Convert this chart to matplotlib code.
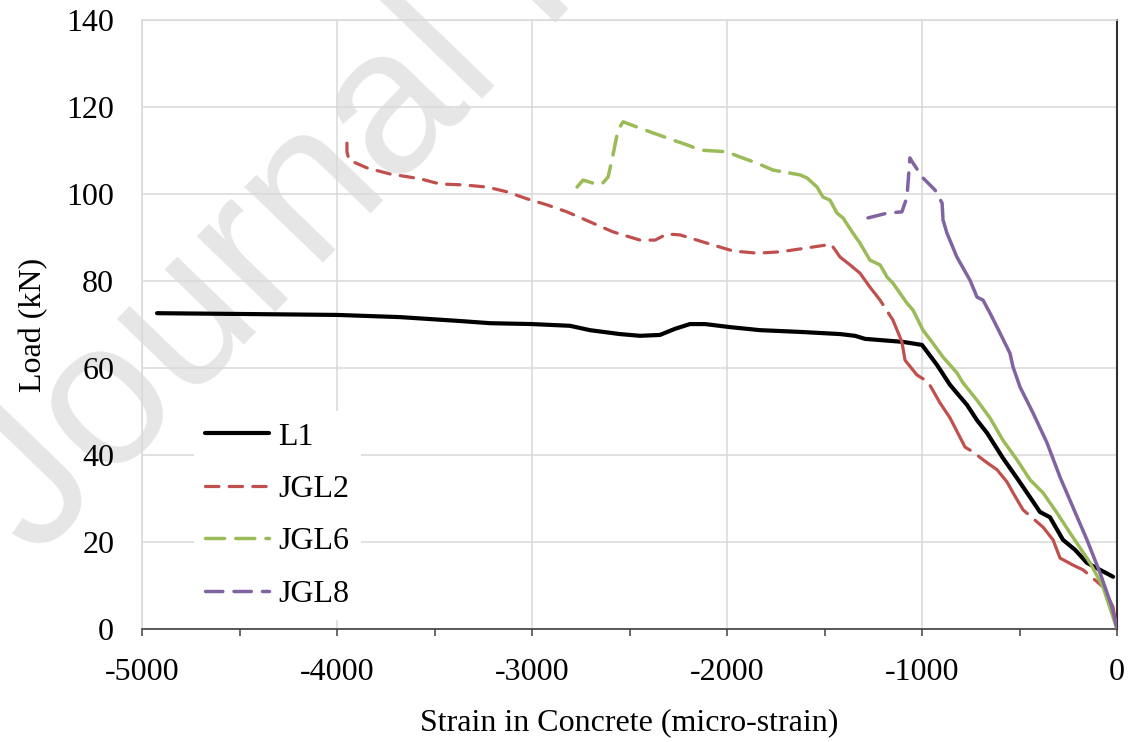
import matplotlib
matplotlib.use("Agg")
import matplotlib.pyplot as plt
import numpy as np
from matplotlib.ticker import MultipleLocator

# ---------------- data ----------------
series_names = ["L1", "JGL2", "JGL6", "JGL8"]

l1_strain = [-4923, -4446, -4000, -3677, -3369, -3215, -3000, -2805, -2703, -2549,
             -2446, -2344, -2267, -2190, -2113, -1985, -1831, -1626, -1420, -1344,
             -1292, -1097, -1000, -923, -856, -769, -718, -667, -585, -513,
             -446, -395, -344, -277, -215, -154, -87, -36, -20]
l1_load = [72.6, 72.4, 72.2, 71.7, 70.8, 70.3, 70.1, 69.7, 68.7, 67.8,
           67.4, 67.6, 69.0, 70.1, 70.1, 69.4, 68.7, 68.3, 67.8, 67.4,
           66.7, 66.0, 65.3, 60.7, 56.1, 51.5, 48.0, 45.1, 39.3, 34.7,
           30.3, 26.9, 25.7, 20.5, 18.2, 15.2, 13.6, 12.4, 12.0]

jgl2_strain = [-3949, -3949, -3938, -3846, -3728, -3574, -3472, -3354, -3231, -3128,
               -3026, -2923, -2821, -2703, -2585, -2446, -2369, -2308, -2241, -2103,
               -1969, -1846, -1728, -1590, -1487, -1456, -1420, -1369, -1318, -1267,
               -1215, -1149, -1103, -1087, -1026, -969, -908, -856, -779, -738,
               -687, -615, -564, -533, -482, -379, -328, -292, -226, -174,
               -72, -21, 0]
jgl2_load = [111.7, 109.7, 107.8, 106.0, 104.6, 103.5, 102.3, 102.1, 101.6, 100.5,
             98.9, 97.5, 95.9, 93.6, 91.3, 89.4, 89.4, 90.8, 90.6, 88.7,
             86.9, 86.4, 86.7, 87.6, 88.3, 87.8, 85.5, 83.7, 81.8, 78.6,
             75.6, 71.0, 66.0, 61.8, 58.4, 56.8, 52.0, 48.5, 41.8, 40.7,
             38.9, 36.6, 33.8, 31.3, 27.4, 23.4, 20.5, 16.3, 14.7, 13.6,
             9.7, 5.1, 0.0]

jgl6_strain = [-2769, -2738, -2687, -2641, -2610, -2590, -2559, -2533, -2462, -2395,
               -2277, -2205, -2138, -2000, -1933, -1846, -1764, -1677, -1626, -1590,
               -1538, -1508, -1472, -1436, -1405, -1354, -1318, -1267, -1215, -1179,
               -1149, -1113, -1077, -1046, -995, -944, -892, -821, -790, -718,
               -651, -585, -513, -446, -379, -308, -241, -138, -72, 0]
jgl6_load = [101.6, 103.2, 102.5, 102.3, 103.9, 107.8, 114.7, 116.6, 115.4, 114.3,
             112.4, 111.3, 110.1, 109.7, 108.5, 107.1, 105.5, 104.8, 104.4, 103.7,
             101.6, 99.3, 98.6, 95.6, 94.5, 91.0, 88.7, 84.8, 83.7, 80.9,
             79.5, 77.2, 74.9, 73.3, 68.7, 65.7, 62.5, 58.9, 56.6, 52.6,
             48.5, 43.4, 38.9, 34.3, 31.3, 26.7, 22.1, 15.2, 9.7, 0.0]

jgl8_strain = [-1277, -1179, -1103, -1077, -1062, -1046, -995, -933, -897, -892,
               -872, -821, -754, -718, -687, -651, -615, -549, -533, -497,
               -431, -359, -292, -226, -154, -87, -26, 0]
jgl8_load = [94.5, 95.6, 95.9, 99.3, 108.3, 107.1, 103.7, 100.9, 97.9, 94.0,
             91.0, 85.5, 80.2, 76.3, 75.6, 72.6, 69.4, 63.4, 60.2, 55.6,
             49.7, 42.8, 34.9, 28.0, 20.5, 12.9, 5.1, 0.0]

x_ticks = [-5000, -4000, -3000, -2000, -1000, 0]
y_ticks = [0, 20, 40, 60, 80, 100, 120, 140]

# ---------------- style ----------------
plt.rcParams['font.family'] = ['Liberation Serif', 'DejaVu Serif']
FS = 23
colors = {"L1": "#000000", "JGL2": "#C0504D", "JGL6": "#9BBB59", "JGL8": "#8064A2"}
# strain beyond which the densely sampled curve renders (nearly) solid, Excel dash look
solid_from = {"JGL2": -1460, "JGL6": -1680, "JGL8": -893}
steep_style = {"JGL2": (0, (24, 3.2)), "JGL6": "-", "JGL8": "-"}

fig = plt.figure(figsize=(11.33, 7.42), dpi=100)
ax = fig.add_axes([142/1133, 1-629/742, 975/1133, 609/742])

grid_c = "#D9D9D9"
ax.set_xlim(-5000, 0)
ax.set_ylim(0, 140)
ax.set_xticks(x_ticks)
ax.xaxis.set_minor_locator(MultipleLocator(500))
ax.set_yticks(y_ticks)
ax.grid(True, which='major', color=grid_c, linewidth=1.1, zorder=0)
ax.set_axisbelow(True)

for s in ['left', 'top']:
    ax.spines[s].set_color(grid_c)
    ax.spines[s].set_linewidth(1.1)
ax.spines['bottom'].set_color('#404040')
ax.spines['bottom'].set_linewidth(1.2)
ax.spines['right'].set_color('#303030')
ax.spines['right'].set_linewidth(1.5)

ax.tick_params(axis='x', which='both', direction='out', length=5, width=1.1,
               color='#404040', labelsize=FS, pad=16)
ax.tick_params(axis='y', which='both', length=0, labelsize=FS, pad=20)
ax.set_xticklabels([str(v) for v in x_ticks])

ax.set_xlabel("Strain in Concrete (micro-strain)", fontsize=FS, labelpad=15)
ax.set_ylabel("Load (kN)", fontsize=FS, labelpad=13)

# watermark
fig.text(36/1133, 1-560/742, "Journal Pre-proof", rotation=46, rotation_mode='anchor',
         ha='left', va='baseline', fontsize=148, family='Liberation Sans',
         color='#E6E6E6', zorder=0.5)
ax.set_zorder(1)
ax.patch.set_alpha(0)

data = {"L1": (l1_strain, l1_load), "JGL2": (jgl2_strain, jgl2_load),
        "JGL6": (jgl6_strain, jgl6_load), "JGL8": (jgl8_strain, jgl8_load)}
dashes = {"JGL2": (4.2, 3.2), "JGL6": (5.5, 3.2), "JGL8": (5.0, 3.2)}
lws = {"L1": 3.0, "JGL2": 2.3, "JGL6": 2.5, "JGL8": 2.5}

handles = []
for name in series_names:
    xs, ys = np.array(data[name][0]), np.array(data[name][1])
    if name == "L1":
        h, = ax.plot(xs, ys, color=colors[name], lw=lws[name], label=name,
                     solid_capstyle='round', zorder=3)
    else:
        m = xs >= solid_from[name]
        k = int(np.argmax(m))
        h, = ax.plot(xs[:k + 1], ys[:k + 1], color=colors[name], lw=lws[name], label=name,
                     linestyle=(0, dashes[name]), dash_capstyle='round', zorder=3)
        ax.plot(xs[m], ys[m], color=colors[name], lw=lws[name], zorder=3,
                linestyle=steep_style[name], solid_joinstyle='round',
                dash_capstyle='round')
    handles.append(h)

leg = ax.legend(handles=handles, loc='lower left', bbox_to_anchor=(0.053, 0.015),
                borderaxespad=0, fontsize=FS, frameon=True, fancybox=False,
                facecolor='white', edgecolor='none', framealpha=1,
                handlelength=2.0, handletextpad=0.3, labelspacing=0.72,
                borderpad=0.35)
leg.set_zorder(4)

fig.savefig("out.png", dpi=100)
